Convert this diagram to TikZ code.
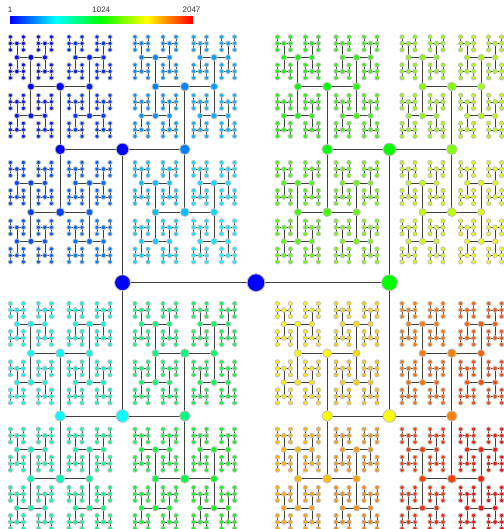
\documentclass[tikz,border=0pt]{standalone}
\usepackage{fontspec}
\setmainfont{Liberation Sans}
\newcommand\setjet[1]{%
  \pgfmathsetmacro\jr{min(1,max(0,4*#1-2))}%
  \pgfmathsetmacro\jg{max(0,min(1,4*#1,4-4*#1))}%
  \pgfmathsetmacro\jb{min(1,max(0,2-4*#1))}%
  \definecolor{jetc}{rgb}{\jr,\jg,\jb}}
\newcommand\hoffs[1]{\ifcase#1 0\or133.5\or133.3\or62.3\or62.8\or29.3\or29.2\or14\or14\or6.5\or6.5\fi}
\newcommand\hrad[1]{\ifcase#1 9.3\or8.3\or6.7\or5.6\or4.7\or3.9\or3.4\or3.0\or2.7\or2.5\or2.5\fi}
\newcommand\hlw[1]{\ifcase#1 1\or1\or1\or1\or1\or1\or1\or0.7\or0.7\or0.5\or0.5\fi}
\newif\ifhpassone
\newcommand\htree[5]{%
  \begingroup
  \ifhpassone
    \coordinate (n#1) at (#2,#3);%
    \ifx\relax#5\relax\else
      \edef\lw{\hlw{#4}}%
      \draw[hedge, line width=\lw pt] (#5) -- (n#1);%
    \fi
  \else
    \pgfmathsetmacro\rr{\hrad{#4}-0.4}%
    \pgfmathsetmacro\jt{(#1-1)/2046}%
    \setjet{\jt}%
    \filldraw[hdot, fill=jetc] (n#1) circle[radius=\rr pt];%
  \fi
  \ifnum#4<10
    \pgfmathsetmacro\dd{\hoffs{\numexpr#4+1\relax}}%
    \ifodd\numexpr#4+1\relax
      \pgfmathsetmacro\xa{#2-\dd}\pgfmathsetmacro\xb{#2+\dd}%
      \edef\ya{#3}\edef\yb{#3}%
    \else
      \pgfmathsetmacro\ya{#3-\dd}\pgfmathsetmacro\yb{#3+\dd}%
      \edef\xa{#2}\edef\xb{#2}%
    \fi
    \pgfmathtruncatemacro\pw{2^(10-#4)}%
    \edef\calls{\noexpand\htree{\the\numexpr#1+1\relax}{\xa}{\ya}{\the\numexpr#4+1\relax}{n#1}%
      \noexpand\htree{\the\numexpr#1+\pw\relax}{\xb}{\yb}{\the\numexpr#4+1\relax}{n#1}}%
    \calls
  \fi
  \endgroup}
\begin{document}
\begin{tikzpicture}[x=1pt,y=-1pt,
  hdot/.style={draw=black!25, line width=0.8pt},
  hedge/.style={draw=black!75},
  lab/.style={font=\fontsize{8}{9}\selectfont, text=black!80, inner sep=0pt}]
\useasboundingbox[fill=white] (0,0) rectangle (503,529);
% colour bar
\foreach \k in {0,...,182}{%
  \pgfmathsetmacro\jt{\k/182}%
  \setjet{\jt}%
  \fill[jetc] (10+\k,15.7) rectangle (11.3+\k,24);
}
\node[lab] (l1) at (10,9.8) {1};
\node[lab] (l2) at (101.3,9.8) {1024};
\node[lab] (l3) at (191.5,9.8) {2047};
% H-tree: pass 1 named positions and edges, pass 2 coloured dots
\hpassonetrue
\htree{1}{256}{282.7}{0}{}
\hpassonefalse
\htree{1}{256}{282.7}{0}{}
\end{tikzpicture}
\end{document}
